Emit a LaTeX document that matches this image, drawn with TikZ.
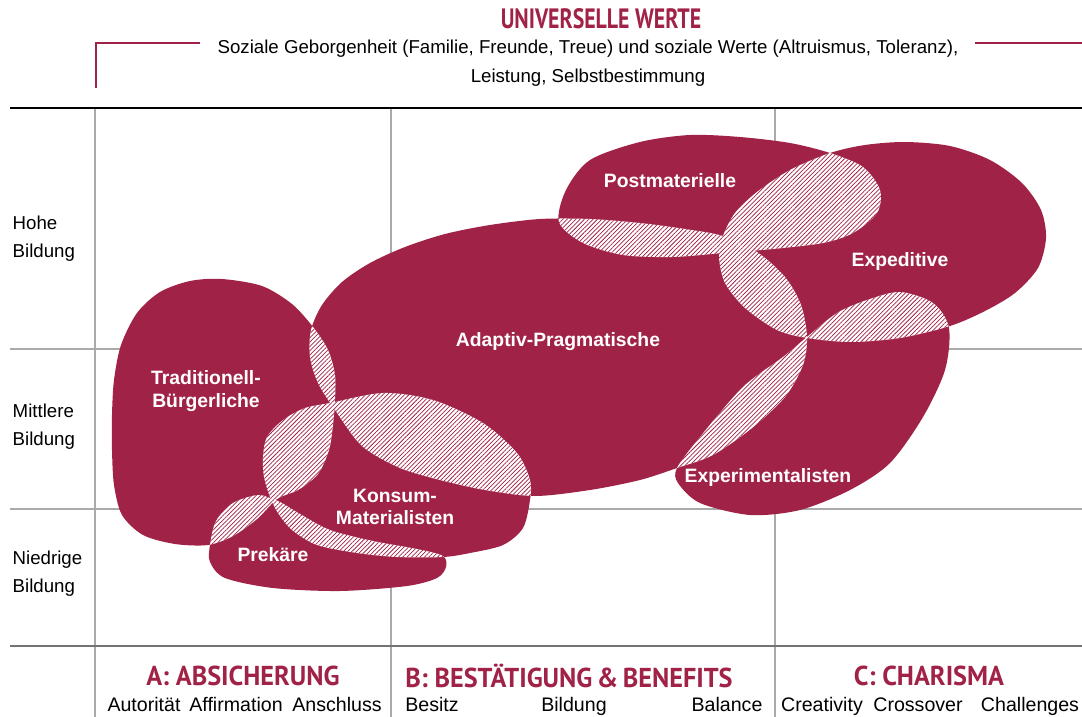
\documentclass[tikz,border=0pt]{standalone}
\usepackage{fontspec}
\setmainfont{Liberation Sans}
\newfontfamily\headfont{PT Sans}[FakeStretch=0.78]
\newfontfamily\pillarfont{PT Sans}[FakeStretch=0.96]
\usetikzlibrary{patterns.meta}

\definecolor{sinusred}{HTML}{A12247}
\definecolor{gridgray}{HTML}{AAAAAA}

\tikzset{
  gridline/.style={gridgray,line width=1.1pt},
  hatch/.style={pattern={Lines[angle=45,distance=2.3pt,line width=0.55pt]},pattern color=sinusred},
  milieulabel/.style={text=white,font=\fontsize{14.5}{17}\selectfont\bfseries,align=center},
  axislabel/.style={anchor=west,align=left,font=\fontsize{14}{21}\selectfont},
  headlabel/.style={text=sinusred,font=\headfont\bfseries\fontsize{21}{24}\selectfont},
  pillarlabel/.style={text=sinusred,font=\pillarfont\bfseries\fontsize{20.5}{24}\selectfont},
  wordlabel/.style={anchor=base,font=\fontsize{14.7}{16}\selectfont}
}

\newcommand{\blobTB}{plot[smooth cycle] coordinates {(222,279) (262,286) (292,304) (313,327) (328,350) (335,375) (335,400) (333,425) (329,450) (318,474) (298,490) (277,499) (257,519) (233,536) (208,545) (175,544) (143,535) (122,515) (114,485) (112,450) (112,415) (114,380) (121,345) (137,313) (160,292) (190,281)}}
\newcommand{\blobAP}{plot[smooth cycle] coordinates {(311,330) (322,305) (342,282) (370,263) (405,247) (445,234) (490,225) (540,219) (590,219) (640,223) (685,229) (723,236) (757,252) (785,277) (801,305) (807,337) (803,365) (785,397) (752,428) (713,455) (677,468) (640,480) (590,490) (535,496) (485,490) (440,480) (400,468) (362,446) (335,410) (318,383) (310,357)}}
\newcommand{\blobKM}{plot[smooth cycle] coordinates {(330,403) (383,393) (433,400) (483,423) (517,453) (530,480) (530,500) (523,528) (503,545) (470,553) (443,557) (397,557) (357,553) (317,545) (292,530) (278,513) (270,497) (264,477) (263,457) (267,437) (283,420) (305,408)}}
\newcommand{\blobPR}{plot[smooth cycle] coordinates {(210,545) (216,521) (233,503) (257,495) (270,498) (282,503) (300,514) (330,530) (373,541) (417,549) (443,556) (446,567) (437,578) (407,586) (340,591) (273,588) (225,578) (210,562)}}
\newcommand{\blobPM}{plot[smooth cycle] coordinates {(559,222) (566,190) (590,160) (640,142) (690,135) (740,137) (790,143) (830,153) (863,167) (880,190) (877,213) (853,233) (823,243) (773,249) (723,253) (673,257) (623,255) (583,243)}}
\newcommand{\blobEP}{plot[smooth cycle] coordinates {(830,153) (865,145) (905,142) (950,146) (990,160) (1022,183) (1041,210) (1046,238) (1038,268) (1015,293) (985,311) (950,326) (900,338) (850,342) (807,338) (777,330) (745,308) (725,283) (719,257) (723,236) (735,213) (757,192) (790,170)}}
\newcommand{\blobEX}{plot[smooth cycle] coordinates {(807,337) (837,313) (867,300) (900,292) (933,303) (949,328) (945,370) (923,417) (890,463) (850,490) (800,510) (750,515) (700,503) (678,483) (677,468) (700,437) (743,387) (783,357)}}

\newcommand{\hatchoverlap}[2]{\begin{scope}\clip #1; \fill[white] #2; \fill[hatch] #2; \end{scope}}

\begin{document}
\begin{tikzpicture}[x=0.75pt,y=-0.75pt]
  \useasboundingbox (0,0) rectangle (1082,717);

  % grid
  \draw[gridline] (10,349) -- (1082,349);
  \draw[gridline] (10,509) -- (1082,509);
  \draw[gridline] (95,108) -- (95,717);
  \draw[gridline] (391,108) -- (391,717);
  \draw[gridline] (775,108) -- (775,717);
  \draw[black,line width=1.4pt] (10,108) -- (1082,108);
  \draw[black!55,line width=2pt] (10,646) -- (1082,646);
  \draw[sinusred,line width=1.1pt] (96,88) -- (96,43) -- (200,43);
  \draw[sinusred,line width=1.1pt] (975,43) -- (1082,43);

  % milieus
  \fill[sinusred] \blobTB;
  \fill[sinusred] \blobAP;
  \fill[sinusred] \blobKM;
  \fill[sinusred] \blobPR;
  \fill[sinusred] \blobPM;
  \fill[sinusred] \blobEP;
  \fill[sinusred] \blobEX;

  % overlaps
  \hatchoverlap{\blobTB}{\blobAP}
  \hatchoverlap{\blobTB}{\blobKM}
  \hatchoverlap{\blobTB}{\blobPR}
  \hatchoverlap{\blobKM}{\blobAP}
  \hatchoverlap{\blobKM}{\blobPR}
  \hatchoverlap{\blobAP}{\blobPM}
  \hatchoverlap{\blobPM}{\blobEP}
  \hatchoverlap{\blobAP}{\blobEP}
  \hatchoverlap{\blobAP}{\blobEX}
  \hatchoverlap{\blobEP}{\blobEX}

  \node[milieulabel] (tb) at (206,391) {Traditionell-\\Bürgerliche};
  \node[milieulabel] (ap) at (558,342) {Adaptiv-Pragmatische};
  \node[milieulabel] (pm) at (670,181) {Postmaterielle};
  \node[milieulabel] (ep) at (900,262) {Expeditive};
  \node[milieulabel] (km) at (395,507) {Konsum-\\Materialisten};
  \node[milieulabel] (pr) at (273,555) {Prekäre};
  \node[milieulabel] (ex) at (768,477) {Experimentalisten};

  % axes
  \node[axislabel] (hohe) at (8,239) {Hohe\\Bildung};
  \node[axislabel] (mittlere) at (8,427) {Mittlere\\Bildung};
  \node[axislabel] (niedrige) at (8,574) {Niedrige\\Bildung};

  \node[headlabel] (werte) at (601,19) {UNIVERSELLE WERTE};
  \node[align=center,font=\fontsize{14}{21.5}\selectfont] (werteinfo) at (588,63) {Soziale Geborgenheit (Familie, Freunde, Treue) und soziale Werte (Altruismus, Toleranz),\\Leistung, Selbstbestimmung};

  \node[pillarlabel] (absich) at (243,676) {A: ABSICHERUNG};
  \node[pillarlabel] (bestaet) at (569,676) {B: BESTÄTIGUNG\,\&\,BENEFITS};
  \node[pillarlabel] (charisma) at (929,676) {C: CHARISMA};

  \node[wordlabel] (autoritaet) at (144,711) {Autorität};
  \node[wordlabel] (affirmation) at (236,711) {Affirmation};
  \node[wordlabel] (anschluss) at (337,711) {Anschluss};
  \node[wordlabel] (besitz) at (432,711) {Besitz};
  \node[wordlabel] (bildung) at (574,711) {Bildung};
  \node[wordlabel] (balance) at (727,711) {Balance};
  \node[wordlabel] (creativity) at (822,711) {Creativity};
  \node[wordlabel] (crossover) at (918,711) {Crossover};
  \node[wordlabel] (challenges) at (1030,711) {Challenges};
\end{tikzpicture}
\end{document}
